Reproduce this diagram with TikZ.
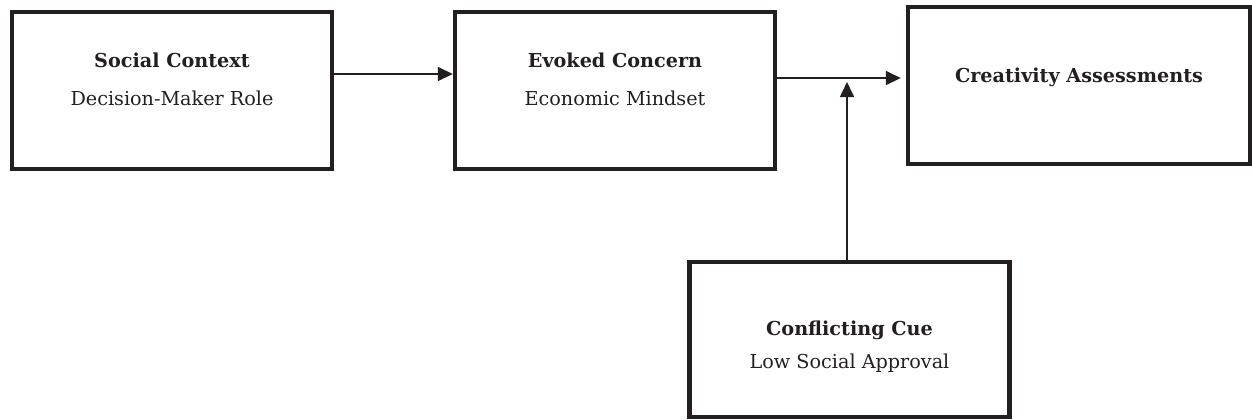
\documentclass[tikz,border=0pt]{standalone}
\usepackage{fontspec}
\setmainfont{DejaVu Serif}
\usetikzlibrary{arrows.meta, positioning}
\definecolor{ink}{HTML}{231F20}

\begin{document}
\begin{tikzpicture}[x=0.5pt, y=-0.5pt,
		bigbox/.style={rectangle, draw=ink, text=ink, line width=2.2pt, align=center,
		minimum width=160pt, minimum height=78.5pt, inner sep=0pt,
		font=\fontsize{9.6}{19}\selectfont},
		link/.style={draw=ink, line width=0.8pt, -{Triangle[length=7.5pt,width=7pt]}}
		]
		\useasboundingbox (0,0) rectangle (1252,419);

		\node[bigbox, text depth=11pt](ctx) at (172,90.5){\textbf{Social Context}\\Decision-Maker Role};
		\node[bigbox, text depth=11pt, right=59.3pt of ctx](concern){\textbf{Evoked Concern}\\Economic Mindset};
		\node[bigbox, text depth=10.8pt, minimum width=171pt, right=64.3pt of concern, yshift=2.5pt](assess){\textbf{Creativity Assessments}};
		\node[bigbox, text height=30.7pt, minimum height=77.5pt, font=\fontsize{9.6}{16.5}\selectfont,
		below=44.3pt of concern.south, xshift=117.25pt](cue){\textbf{Conflicting Cue}\\Low Social Approval};

		\draw[link] ([yshift=8.25pt]ctx.east) -- ([yshift=8.25pt]concern.west);
		\draw[link, shorten >=2.5pt] ([yshift=6.25pt]concern.east) -- ([yshift=6.25pt]concern.east -| assess.west);
		\coordinate (join) at ([yshift=6.25pt, xshift=-1.25pt]concern.east -| cue.north);
		\draw[link, shorten >=2pt] ([xshift=-1.25pt]cue.north) -- (join);
	\end{tikzpicture}
\end{document}
